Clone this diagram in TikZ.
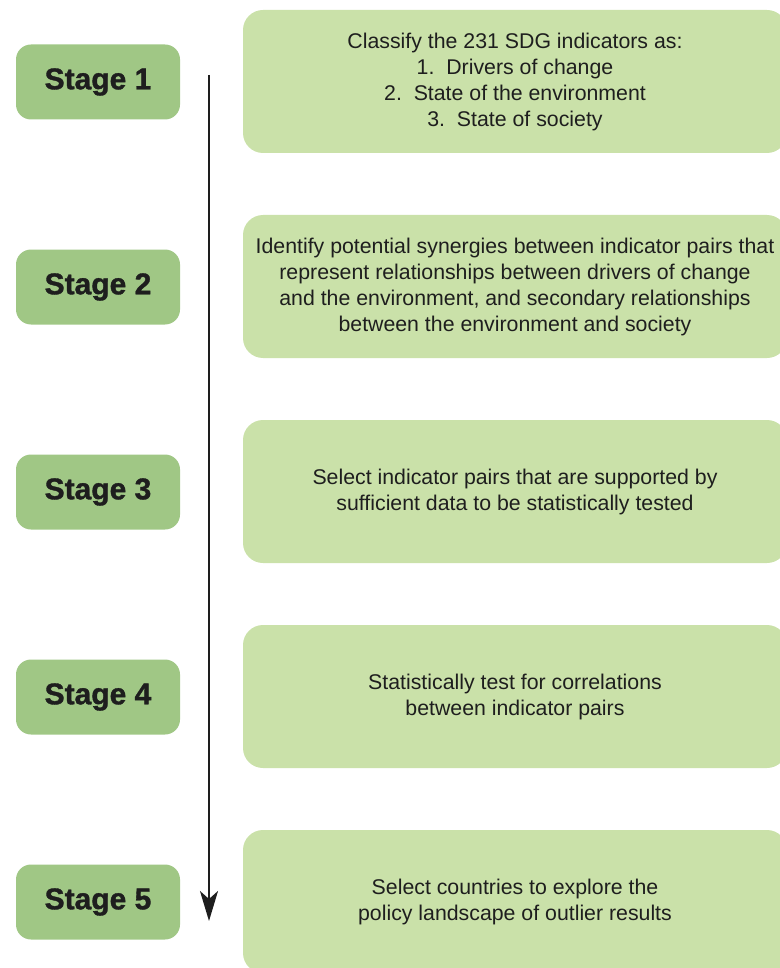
\documentclass[tikz,border=0pt]{standalone}
\usepackage{fontspec}
\setmainfont{Liberation Sans}
\newfontfamily\stagefont[BoldFont={Liberation Sans Bold}, BoldFeatures={FakeBold=1.2}]{Liberation Sans}
\usetikzlibrary{arrows.meta}
\definecolor{stagegreen}{HTML}{A0C785}
\definecolor{boxgreen}{HTML}{CAE1A9}
\definecolor{txt}{HTML}{1E1E1E}
\tikzset{
  stagebox/.style={fill=stagegreen, draw=none, rounded corners=15pt, minimum width=164pt, minimum height=75pt, inner sep=0pt, text=txt, font=\stagefont\fontsize{30}{34}\selectfont\bfseries},
  infobox/.style={fill=boxgreen, draw=none, rounded corners=20pt, minimum width=544pt, minimum height=143pt, inner sep=0pt, text=txt, align=center, font=\fontsize{21.3}{26}\selectfont},
  flow/.style={draw=txt, line width=2pt, -{Stealth[length=30pt, width=18pt, inset=8pt]}}
}
\begin{document}
\begin{tikzpicture}[x=1pt, y=-1pt]
\useasboundingbox (0,0) rectangle (779,968);
\node[stagebox] (s1) at (98,82) {Stage 1};
\node[stagebox] (s2) at (98,287) {Stage 2};
\node[stagebox] (s3) at (98,492) {Stage 3};
\node[stagebox] (s4) at (98,697) {Stage 4};
\node[stagebox] (s5) at (98,902) {Stage 5};
\node[infobox] (b1) at (515,81.5) {Classify the 231 SDG indicators as:\\1.\ \ Drivers of change\\2.\ \ State of the environment\\3.\ \ State of society};
\node[infobox] (b2) at (515,286.5) {Identify potential synergies between indicator pairs that\\represent relationships between drivers of change\\and the environment, and secondary relationships\\between the environment and society};
\node[infobox] (b3) at (515,491.5) {Select indicator pairs that are supported by\\sufficient data to be statistically tested};
\node[infobox] (b4) at (515,696.5) {Statistically test for correlations\\between indicator pairs};
\node[infobox] (b5) at (515,901.5) {Select countries to explore the\\policy landscape of outlier results};
\coordinate (atop) at (209,75);
\coordinate (abot) at (209,921);
\draw[flow] (atop) -- (abot);
\end{tikzpicture}
\end{document}
